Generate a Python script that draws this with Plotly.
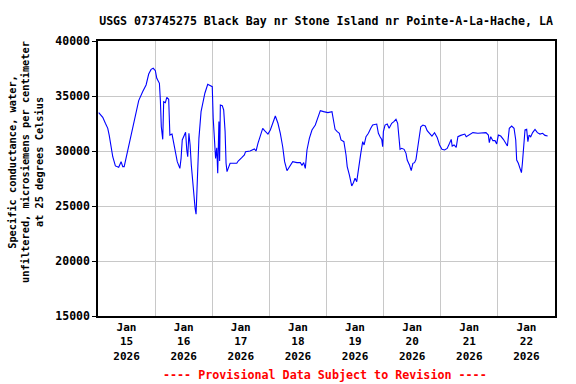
import pandas as pd
import plotly.graph_objects as go

# hours since 2026-01-15 00:00 (local) and specific conductance (uS/cm)
hours = [0.3, 2.0, 3.1, 4.1, 4.7, 5.5, 6.2, 7.3, 8.7, 9.7, 10.4, 11.0, 12.5, 13.4, 14.6, 15.7,
         17.1, 18.8, 20.2, 21.3, 22.3, 23.2, 24.1, 24.7, 25.8, 26.2, 26.6, 27.2, 27.6, 28.3,
         28.9, 29.7, 30.2, 31.1, 32.1, 32.8, 33.3, 34.4, 34.9, 35.4, 36.3, 36.8, 37.3, 37.7,
         38.2, 38.7, 39.2, 39.6, 40.2, 40.8, 41.2, 41.5, 41.9, 42.4, 43.3, 44.2, 44.9, 46.1,
         47.1, 48.0, 48.4, 48.9, 49.4, 49.9, 50.3, 50.8, 51.1, 51.4, 52.2, 52.8, 53.4, 53.8,
         54.2, 54.7, 55.5, 58.3, 58.9, 60.4, 61.5, 62.0, 63.9, 65.7, 66.4, 67.2, 68.2, 69.2,
         70.0, 71.4, 72.4, 73.4, 74.5, 75.6, 76.6, 77.6, 78.4, 79.4, 80.4, 81.8, 83.6, 85.0,
         85.7, 86.4, 87.1, 87.8, 88.8, 89.9, 91.3, 92.4, 93.4, 94.8, 96.6, 98.3, 98.9, 99.6,
         100.5, 101.4, 102.1, 103.3, 104.2, 104.7, 105.6, 106.6, 107.3, 108.0, 108.7, 109.4,
         110.4, 111.2, 111.8, 112.6, 113.6, 114.6, 115.4, 117.1, 117.8, 118.5, 119.2, 119.6,
         119.9, 120.6, 121.5, 122.3, 123.4, 124.3, 125.2, 125.9, 126.5, 126.9, 127.6, 128.6,
         129.4, 129.9, 130.9, 131.6, 132.3, 133.0, 133.6, 134.1, 134.8, 135.6, 136.5, 137.5,
         138.3, 139.3, 140.3, 141.4, 142.5, 143.5, 144.5, 145.6, 146.7, 147.7, 148.4, 148.8,
         149.6, 150.5, 151.2, 152.4, 154.1, 154.7, 156.2, 157.5, 159.6, 161.3, 163.0, 164.0,
         164.4, 165.0, 165.9, 166.8, 167.5, 168.2, 169.2, 170.3, 171.4, 172.0, 172.8, 173.8,
         174.8, 175.5, 175.9, 176.6, 177.3, 177.9, 178.3, 178.7, 179.4, 180.1, 180.6, 181.1,
         181.8, 182.6, 183.6, 184.6, 185.7, 186.8, 187.8, 188.9]
conductance = [33490, 33060, 32520, 32060, 31450, 30390, 29480, 28640, 28520, 29030, 28580, 28580,
               30090, 31150, 32060, 33420, 34580, 35400, 36000, 37000, 37420, 37520, 37300, 36610,
               36150, 34640, 32210, 31060, 34490, 34400, 34880, 34700, 31450, 31540, 30390, 29480,
               29030, 28420, 29330, 31000, 31450, 31700, 30090, 29480, 31610, 30550, 28730, 27520,
               25700, 24790, 24250, 26300, 28730, 31150, 33580, 34490, 35250, 36060, 35940, 35850,
               32970, 30390, 29330, 30300, 27970, 32670, 29090, 34180, 34120, 33730, 31760, 28880,
               28120, 28420, 28880, 28880, 29090, 29390, 29640, 29940, 30000, 30180, 30000, 30700,
               31450, 32060, 31850, 31540, 31910, 32520, 33180, 32520, 31610, 30390, 29030, 28210,
               28580, 29030, 28940, 28940, 28700, 28940, 28420, 30090, 31150, 31910, 32360, 32970,
               33670, 33580, 33490, 33580, 32670, 31970, 31760, 31610, 31000, 30850, 29640, 28580,
               27820, 26820, 27120, 27520, 27210, 28420, 29790, 30850, 30550, 31300, 31610, 32060,
               32360, 32450, 31610, 31300, 31060, 30390, 31760, 32360, 32450, 32060, 32520, 32670,
               32880, 32520, 31300, 30150, 30240, 30150, 29790, 29180, 28700, 28210, 28880, 28940,
               29240, 30090, 31300, 32210, 32360, 32270, 31850, 31610, 31360, 31670, 31240, 30550,
               30150, 30090, 30240, 30700, 31060, 30450, 30550, 30330, 31300, 31420, 31540, 31300,
               31540, 31670, 31610, 31610, 31670, 31450, 30760, 31300, 30940, 30940, 30640, 31450,
               31360, 31060, 30700, 30450, 32060, 32270, 32060, 31000, 29180, 28880, 28420, 28030,
               28880, 30090, 31910, 31970, 30850, 31450, 31300, 31670, 31970, 31670, 31540, 31610,
               31420, 31360]

day_labels = ["15", "16", "17", "18", "19", "20", "21", "22"]

start = pd.Timestamp("2026-01-15 00:00")
times = [start + pd.Timedelta(hours=h) for h in hours]
tick_pos = [start + pd.Timedelta(days=i, hours=12) for i in range(len(day_labels))]
tick_txt = [f"Jan<br>{d}<br>2026" for d in day_labels]

mono = "DejaVu Sans Mono"

fig = go.Figure()
fig.add_trace(go.Scatter(x=times, y=conductance, mode="lines",
                         line=dict(color="#0000FF", width=1.1), showlegend=False,
                         hoverinfo="skip"))

fig.update_layout(
    width=576, height=384,
    margin=dict(l=98, r=21, t=41, b=68),
    paper_bgcolor="white", plot_bgcolor="white",
    title=dict(text="USGS 073745275 Black Bay nr Stone Island nr Pointe-A-La-Hache, LA",
               x=0.566, xanchor="center", y=0.945, yanchor="middle",
               font=dict(family=mono, size=11.6, color="black", weight="bold")),
    xaxis=dict(range=[start, start + pd.Timedelta(days=8)],
               tickvals=tick_pos, ticktext=tick_txt, showgrid=False, ticks="",
               tickfont=dict(family=mono, size=11, color="black", weight="bold"),
               showline=True, linecolor="black", linewidth=1.5, mirror=True,
               minor=dict(dtick=86400000, tick0=start, showgrid=True,
                          gridcolor="#C8C8C8", gridwidth=1, ticks=""),
               zeroline=False),
    yaxis=dict(range=[15000, 40000], dtick=5000, tickformat="d",
               showgrid=True, gridcolor="#C8C8C8", gridwidth=1,
               ticks="outside", ticklen=4, tickcolor="black",
               tickfont=dict(family=mono, size=11.5, color="black", weight="bold"),
               showline=True, linecolor="black", linewidth=1.5, mirror=True,
               zeroline=False),
)

fig.add_annotation(text="Specific conductance, water,<br>unfiltered, microsiemens per centimeter<br>at 25 degrees Celsius",
                   xref="paper", yref="paper", x=-0.16, y=0.56, textangle=-90,
                   xanchor="center", yanchor="middle", showarrow=False,
                   font=dict(family=mono, size=10.3, color="black", weight="bold"))
fig.add_annotation(text="---- Provisional Data Subject to Revision ----",
                   xref="paper", yref="paper", x=0.497, y=-0.215,
                   xanchor="center", yanchor="middle", showarrow=False,
                   font=dict(family=mono, size=11.7, color="#FF0000", weight="bold"))

fig.write_html("out.html", config={"displayModeBar": False},
               post_script="document.body.style.margin='0';")
